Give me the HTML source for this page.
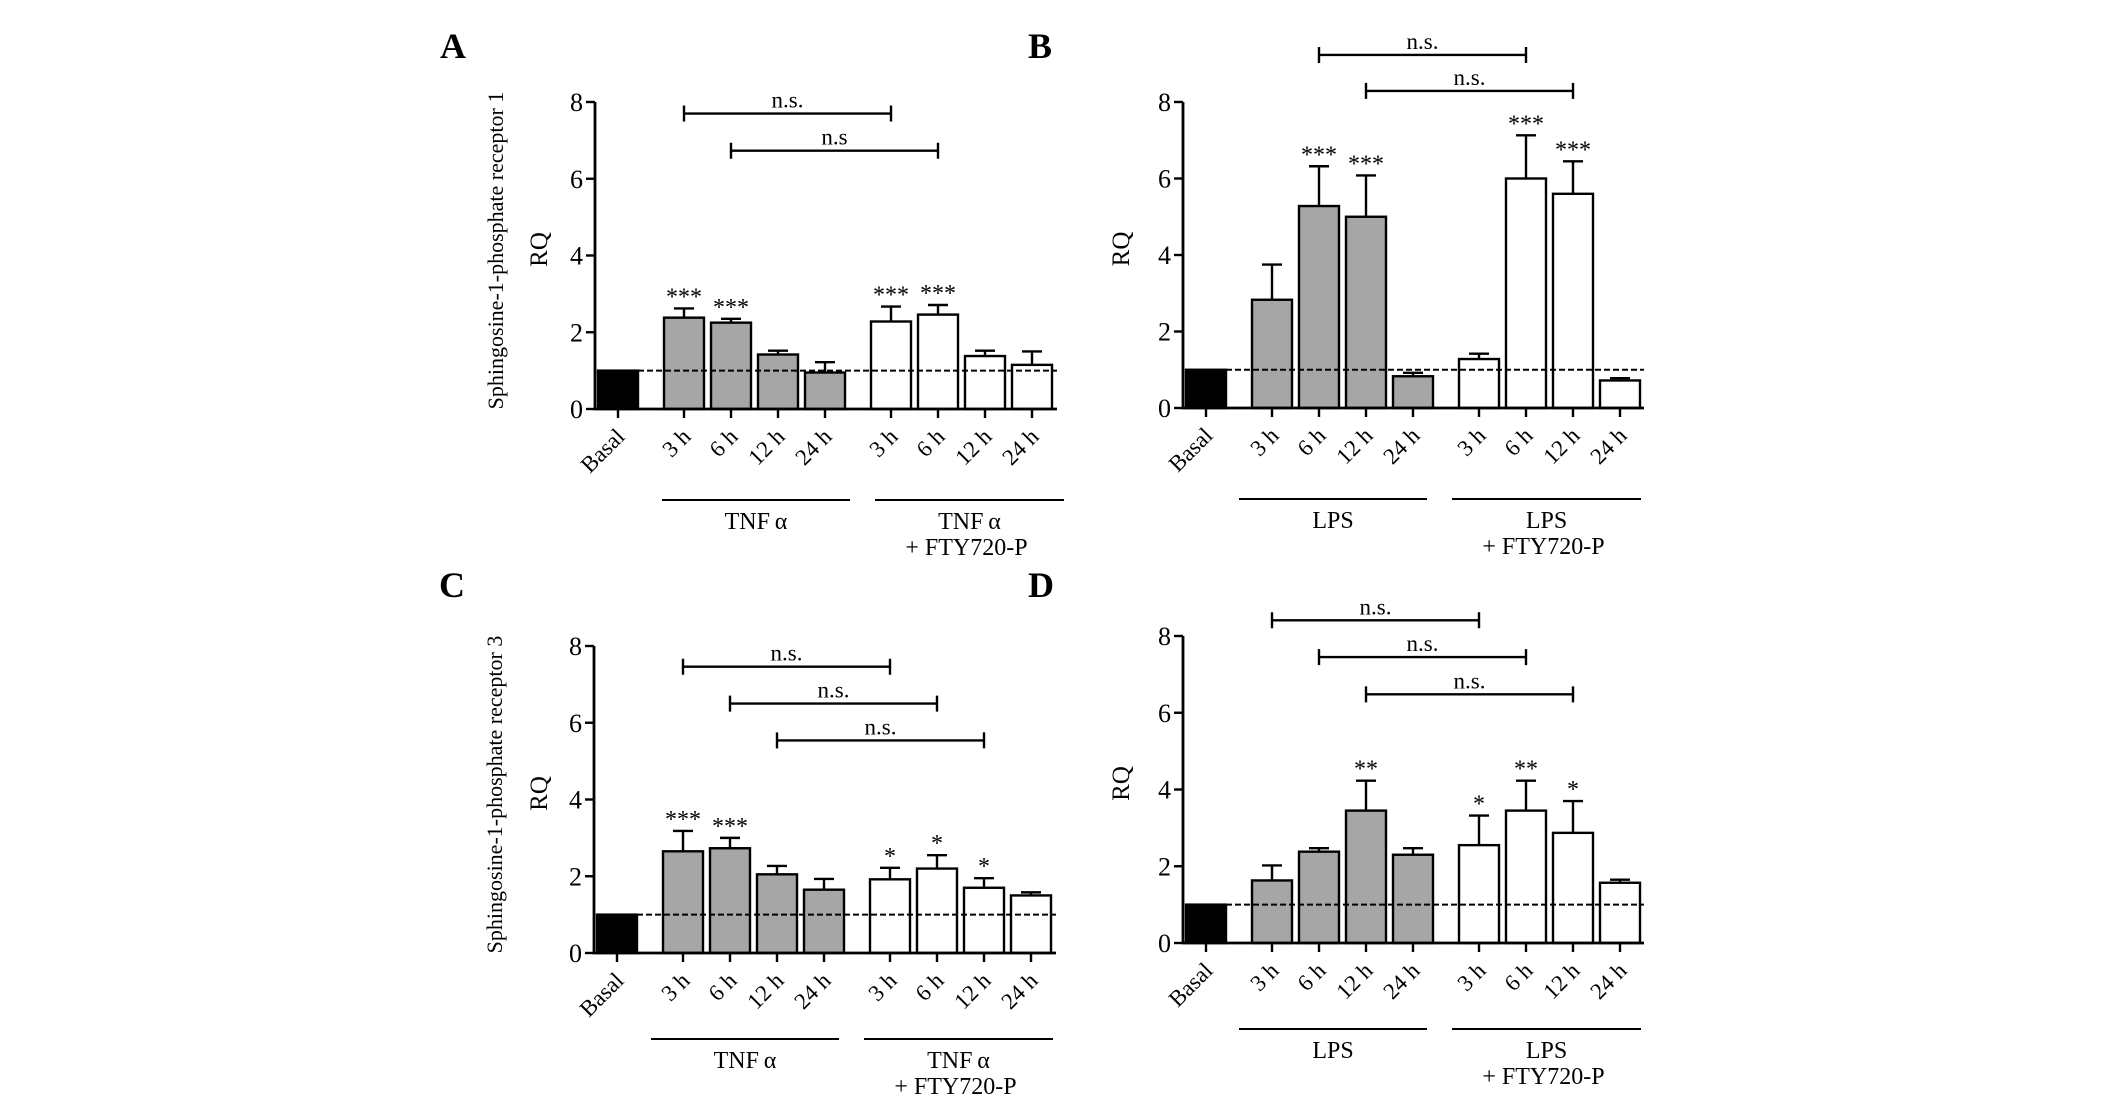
<!DOCTYPE html>
<html><head><meta charset="utf-8"><style>
html,body{margin:0;padding:0;background:#fff;}
svg{display:block;font-family:"Liberation Serif",serif;}
</style></head><body>
<svg id="fig" width="2126" height="1102" viewBox="0 0 2126 1102" xmlns="http://www.w3.org/2000/svg"></svg>
<script>
// Shared categories
const categories = ["Basal","3 h","6 h","12 h","24 h","3 h","6 h","12 h","24 h"];
const yTicks = [0,2,4,6,8];
// Panel A
const aValues = [1, 2.38, 2.25, 1.42, 0.95, 2.28, 2.46, 1.38, 1.15];
const aErrors = [0, 2.62, 2.35, 1.52, 1.22, 2.67, 2.71, 1.52, 1.50];
const aStars = ["", "***", "***", "", "", "***", "***", "", ""];
const aBrackets = [[1,5,7.7],[2,6,6.73]];
const aBracketLabels = ["n.s.","n.s"];
// Panel B
const bValues = [1, 2.83, 5.28, 5.0, 0.83, 1.28, 6.0, 5.6, 0.72];
const bErrors = [0, 3.75, 6.32, 6.08, 0.92, 1.42, 7.13, 6.45, 0.78];
const bStars = ["", "", "***", "***", "", "", "***", "***", ""];
const bBrackets = [[2,6,9.23],[3,7,8.29]];
const bBracketLabels = ["n.s.","n.s."];
// Panel C
const cValues = [1, 2.65, 2.73, 2.05, 1.65, 1.92, 2.2, 1.7, 1.5];
const cErrors = [0, 3.18, 3.0, 2.27, 1.93, 2.22, 2.55, 1.95, 1.58];
const cStars = ["", "***", "***", "", "", "*", "*", "*", ""];
const cBrackets = [[1,5,7.46],[2,6,6.5],[3,7,5.54]];
const cBracketLabels = ["n.s.","n.s.","n.s."];
// Panel D
const dValues = [1, 1.63, 2.38, 3.45, 2.3, 2.55, 3.45, 2.87, 1.57];
const dErrors = [0, 2.02, 2.47, 4.23, 2.47, 3.32, 4.23, 3.7, 1.65];
const dStars = ["", "", "", "**", "", "*", "**", "*", ""];
const dBrackets = [[1,5,8.41],[2,6,7.45],[3,7,6.48]];
const dBracketLabels = ["n.s.","n.s.","n.s."];

const NS = "http://www.w3.org/2000/svg";
const svg = document.getElementById("fig");
function mk(tag, attrs, parent, text){
  const e = document.createElementNS(NS, tag);
  for (const k in attrs) e.setAttribute(k, attrs[k]);
  if (text !== undefined) e.textContent = text;
  (parent || svg).appendChild(e);
  return e;
}
function panel(p){
  const g = mk("g", {});
  
  
  const yS = v => p.y0 - v * (p.y0 - p.y8) / 8;
  const xS = i => p.x0 + 23 + i * 47 + (i >= 1 ? 19 : 0) + (i >= 5 ? 19 : 0);
  const sw = 2.4;
  const L = mk("text", {x: p.x0 - 155, y: p.letterY, "font-size": 36, "font-weight": "bold"}, g, p.letter);
  
  
  if (p.title) {
    const t = mk("text", {x: 0, y: 0, "font-size": 22, "text-anchor": "middle", transform: `translate(${p.x0-92},${(p.y0+p.y8)/2 - 5}) rotate(-90)`}, g, p.title);
    
    
  }
  const rq = mk("text", {x: 0, y: 0, "font-size": 25, "text-anchor": "middle", transform: `translate(${p.rqX},${(p.y0+p.y8)/2 - 6}) rotate(-90)`}, g, "RQ");
  
  
  p.values.forEach((v, i) => {
    const cx = xS(i);
    const fill = i === 0 ? "#000" : (i <= 4 ? "#a6a6a6" : "#fff");
    if (p.errors[i] > v) {
      const el = mk("path", {d: `M${cx} ${yS(v)}V${yS(p.errors[i])}M${cx-10} ${yS(p.errors[i])}H${cx+10}`, stroke: "#000", "stroke-width": sw, fill: "none"}, g);
      
      
    }
    const r = mk("rect", {x: cx - 20, y: yS(v), width: 40, height: yS(0) - yS(v), fill: fill, stroke: "#000", "stroke-width": sw}, g);
    
    
    if (p.stars[i]) {
      const s = mk("text", {x: cx, y: yS(p.errors[i]) - 4, "font-size": 24, "text-anchor": "middle"}, g, p.stars[i]);
      
      
    }
    const tk = mk("line", {x1: cx, x2: cx, y1: p.y0, y2: p.y0 + 9, stroke: "#000", "stroke-width": sw}, g);
    
    
    const lab = mk("text", {x: 0, y: 0, "font-size": 23, "text-anchor": "end", transform: `translate(${cx + 8},${p.y0 + 29}) rotate(-45)`}, g, categories[i]);
    
    
  });
  const dl = mk("line", {x1: xS(0) + 20, x2: p.xEnd, y1: yS(1), y2: yS(1), stroke: "#000", "stroke-width": 2, "stroke-dasharray": "6 3"}, g);
  
  
  const ax = mk("path", {d: `M${p.x0} ${p.y8}V${p.y0}H${p.xEnd}`, stroke: "#000", "stroke-width": sw + 0.4, fill: "none"}, g);
  
  
  yTicks.forEach(t => {
    const l = mk("line", {x1: p.x0 - 9, x2: p.x0, y1: yS(t), y2: yS(t), stroke: "#000", "stroke-width": sw}, g);
    
    
    const tx = mk("text", {x: p.x0 - 12, y: yS(t) + 9, "font-size": 26, "text-anchor": "end"}, g, t);
    
    
  });
  p.brackets.forEach((b, k) => {
    const x1 = xS(b[0]), x2 = xS(b[1]), y = yS(b[2]);
    const br = mk("path", {d: `M${x1} ${y-8}V${y+8}M${x1} ${y}H${x2}M${x2} ${y-8}V${y+8}`, stroke: "#000", "stroke-width": sw, fill: "none"}, g);
    
    
    const bt = mk("text", {x: (x1 + x2) / 2, y: y - 6, "font-size": 23, "text-anchor": "middle"}, g, p.bracketLabels[k]);
    
    
  });
  p.groups.forEach((gr, k) => {
    const gl = mk("line", {x1: gr[0], x2: gr[1], y1: p.groupY, y2: p.groupY, stroke: "#000", "stroke-width": 2}, g);
    
    
    const cx = (gr[0] + gr[1]) / 2;
    const t1 = mk("text", {x: cx, y: p.groupY + 29, "font-size": 24, "text-anchor": "middle"}, g, p.groupNames[k]);
    
    
    if (k === 1) {
      const t2 = mk("text", {x: cx - 3, y: p.groupY + 55, "font-size": 24, "text-anchor": "middle"}, g, "+ FTY720-P");
      
      
    }
  });
}
panel({letter: "A", x0: 595, y0: 409, y8: 102, xEnd: 1057, letterY: 58, rqX: 547,
  title: "Sphingosine-1-phosphate receptor 1", values: aValues, errors: aErrors, stars: aStars,
  brackets: aBrackets, bracketLabels: aBracketLabels, groupY: 500,
  groups: [[662, 850], [875, 1064]], groupNames: ["TNF\u2009\u03b1", "TNF\u2009\u03b1"]});
panel({letter: "B", x0: 1183, y0: 408, y8: 102, xEnd: 1644, letterY: 58, rqX: 1129,
  title: "", values: bValues, errors: bErrors, stars: bStars,
  brackets: bBrackets, bracketLabels: bBracketLabels, groupY: 499,
  groups: [[1239, 1427], [1452, 1641]], groupNames: ["LPS", "LPS"]});
panel({letter: "C", x0: 594, y0: 953, y8: 646, xEnd: 1056, letterY: 597, rqX: 547,
  title: "Sphingosine-1-phosphate receptor 3", values: cValues, errors: cErrors, stars: cStars,
  brackets: cBrackets, bracketLabels: cBracketLabels, groupY: 1039,
  groups: [[651, 839], [864, 1053]], groupNames: ["TNF\u2009\u03b1", "TNF\u2009\u03b1"]});
panel({letter: "D", x0: 1183, y0: 943, y8: 636, xEnd: 1644, letterY: 597, rqX: 1129,
  title: "", values: dValues, errors: dErrors, stars: dStars,
  brackets: dBrackets, bracketLabels: dBracketLabels, groupY: 1029,
  groups: [[1239, 1427], [1452, 1641]], groupNames: ["LPS", "LPS"]});
</script>
</body></html>
